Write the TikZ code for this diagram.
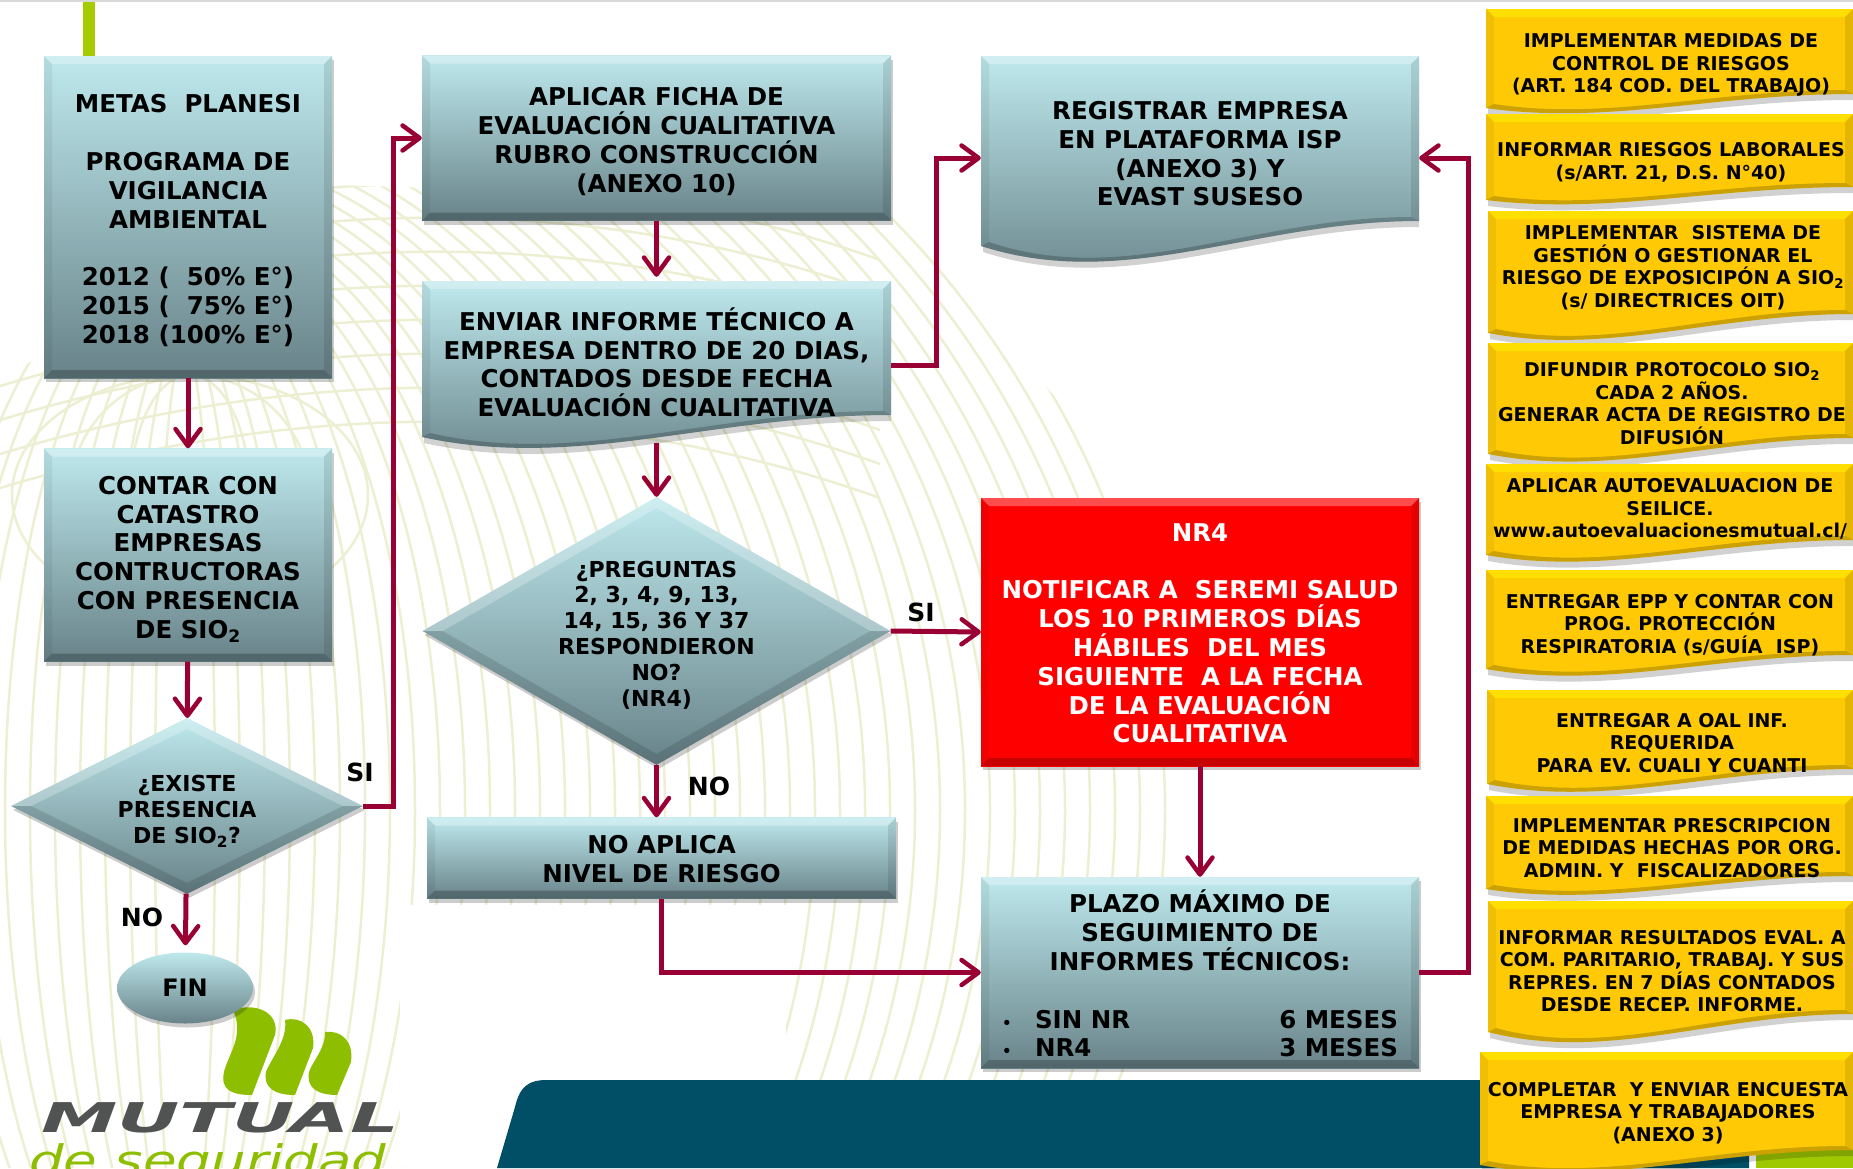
\documentclass[tikz,border=0pt]{standalone}
\usepackage{fontspec}
\setmainfont{DejaVu Sans}
\usetikzlibrary{arrows.meta,shapes.geometric,shadows}
\definecolor{linecrimson}{HTML}{990033}
\definecolor{logogreen}{HTML}{8DBF00}
\definecolor{logogray}{HTML}{505352}
\definecolor{bgcurve}{HTML}{EDEFD2}
\definecolor{petrol}{HTML}{004F66}
\newcommand{\sioo}{SIO\textsubscript{2}}
\newcommand{\tailskip}[1]{\\[#1]~}
%% body with a wavy lower edge: x0,y0,x1,y right,y left,y lowest,kind
\newcommand{\wavebox}[7]{%
  \pgfmathsetmacro\wvw{#3-#1}
  \pgfmathsetmacro\wvc{(#6-.3*#5-.255*#4)/.444}
  \fill[black,opacity=.18] (#1+2,#2+6) -- (#3,#2+6) -- (#3,#4+6)
    .. controls (#1+.62*\wvw,#4+6) and (#1+.33*\wvw,\wvc+6) .. (#1+2,#5+6) -- cycle;
  \shade[#7fill] (#1,#2) -- (#3,#2) -- (#3,#4)
    .. controls (#1+.62*\wvw,#4) and (#1+.33*\wvw,\wvc) .. (#1,#5) -- cycle;
  \fill[#7top] (#1,#2) -- (#3,#2) -- (#3-8,#2+8) -- (#1+8,#2+8) -- cycle;
  \fill[black,opacity=.06] (#1,#2) -- (#1+8,#2+8) -- (#1+8,#5-4) -- (#1,#5) -- cycle;
  \fill[black,opacity=.1] (#3,#2) -- (#3-8,#2+8) -- (#3-8,#4-4) -- (#3,#4) -- cycle;
  \fill[black,opacity=.2] (#1,#5) .. controls (#1+.33*\wvw,\wvc) and (#1+.62*\wvw,#4) .. (#3,#4)
    -- (#3-8,#4-4) .. controls (#1+.62*\wvw,#4-4) and (#1+.33*\wvw,\wvc-4) .. (#1+8,#5-4) -- cycle;
}
\begin{document}
\begin{tikzpicture}
[x=1pt,y=-1pt,
  >={Straight Barb[length=17pt,width=25pt,line width=4.5pt,round]},%
  bgdecorate/.style={draw=bgcurve,line width=2.5pt},%
  linedecorate/.style={->,draw=linecrimson,line width=5pt},%
  basedecorate/.style={align=center,inner sep=0pt,font=\bfseries\fontsize{24.5}{28.8}\selectfont},%
  lightdrop/.style={drop shadow={shadow xshift=2pt,shadow yshift=-4pt,fill=black,opacity=.2}},%
  tealfill/.style={top color=tealhigh,middle color=tealmid,bottom color=teallow},%
  tealtop/.style={white,opacity=.3},%
  yellowfill/.style={top color=yellowmain,bottom color=yellowmain},%
  yellowtop/.style={yellow,opacity=.55},%
  rectbevel/.style={path picture={
      \fill[#1,opacity=.3] (path picture bounding box.north west) -- (path picture bounding box.north east)
        -- ++(-8,8) -- ([shift={(8,8)}]path picture bounding box.north west) -- cycle;
      \fill[black,opacity=.06] (path picture bounding box.north west) -- ++(8,8)
        -- ([shift={(8,-8)}]path picture bounding box.south west) -- (path picture bounding box.south west) -- cycle;
      \fill[black,opacity=.1] (path picture bounding box.north east) -- ++(-8,8)
        -- ([shift={(-8,-8)}]path picture bounding box.south east) -- (path picture bounding box.south east) -- cycle;
      \fill[black,opacity=.22] (path picture bounding box.south west) -- ++(8,-8)
        -- ([shift={(-8,-8)}]path picture bounding box.south east) -- (path picture bounding box.south east) -- cycle;
    }},%
  diamondbevel/.style={path picture={
      \fill[white,opacity=.25] (path picture bounding box.west) -- (path picture bounding box.north)
        -- (path picture bounding box.east) -- ++(-20,0) -- ([yshift=-11pt]path picture bounding box.north)
        -- ([xshift=20pt]path picture bounding box.west) -- cycle;
      \fill[black,opacity=.12] (path picture bounding box.west) -- (path picture bounding box.south)
        -- (path picture bounding box.east) -- ++(-20,0) -- ([yshift=11pt]path picture bounding box.south)
        -- ([xshift=20pt]path picture bounding box.west) -- cycle;
    }},%
  tealdecorate/.style={rectangle,basedecorate,tealfill,lightdrop,rectbevel=white},%
  reddecorate/.style={rectangle,basedecorate,text=white,top color=red,bottom color=red,lightdrop,rectbevel=white},%
  wavedecorate/.style={rectangle,basedecorate},%
  yellowdecorate/.style={rectangle,align=center,inner sep=0pt,yshift=-1pt,font=\bfseries\fontsize{19}{22.6}\selectfont},%
  diamonddecorate/.style={diamond,align=center,inner sep=0pt,tealfill,lightdrop,diamondbevel,
    font=\bfseries\fontsize{22}{25.8}\selectfont},%
  labeldecorate/.style={inner sep=0pt,font=\bfseries\fontsize{25}{28}\selectfont}]
\definecolor{tealhigh}{HTML}{BEE9ED}
\definecolor{tealmid}{HTML}{A3C7CB}
\definecolor{teallow}{HTML}{688389}
\definecolor{yellowmain}{HTML}{FFCA05}
\useasboundingbox (0,0) rectangle (1853,1168);
%% page furniture
\fill[black!15] (0,0) rectangle (1853,2);
\fill[logogreen!80!yellow] (83,2) rectangle (95,56);
\begin{scope}
  \clip (330,185) -- (880,200) -- (1200,560) -- (1200,1080) -- (400,1168) -- (0,1168) -- (0,380) -- cycle;
  \foreach \bgrad in {30,55,...,1000} {
    \draw[bgdecorate] (185,810) ellipse [x radius=\bgrad, y radius=450+.45*\bgrad];
  }
  \foreach \bgy in {190,224,...,430} {
    \draw[bgdecorate] (0,\bgy+60) .. controls (300,\bgy-30) and (600,\bgy-30) .. (880,\bgy+70);
  }
  \foreach \bgrx in {60,120,178} {
    \draw[bgdecorate] (190,495) ellipse [x radius=\bgrx, y radius=120];
  }
  \fill[white] (400,905) rectangle (786,1168);
\end{scope}
\fill[petrol] (497,1168) -- (515,1107) .. controls (520,1085) and (530,1080) .. (547,1080)
  -- (1749,1080) -- (1749,1168) -- cycle;
\fill[logogreen!85!yellow] (1756,1150) rectangle (1853,1168);
%% logo
\fill[logogreen] (233,1010) .. controls (255,1002) and (280,1012) .. (275,1035) -- (252,1095)
  .. controls (232,1095) and (220,1090) .. (224,1072) .. controls (228,1055) and (245,1035) .. (233,1010) -- cycle;
\fill[logogreen] (285,1020) .. controls (300,1016) and (316,1026) .. (313,1048) -- (295,1095)
  .. controls (275,1095) and (263,1088) .. (266,1072) .. controls (270,1060) and (288,1040) .. (285,1020) -- cycle;
\fill[logogreen] (325,1032) .. controls (340,1030) and (354,1040) .. (351,1062) -- (337,1095)
  .. controls (318,1095) and (306,1088) .. (309,1072) .. controls (312,1062) and (326,1048) .. (325,1032) -- cycle;
\node (logotop) at (41,1132) [anchor=base west,inner sep=0pt,text=logogray]
  {\scalebox{1.87}[1]{\fontsize{41}{41}\selectfont\bfseries\itshape MUTUAL}};
\node (logobottom) at (29,1175) [anchor=base west,inner sep=0pt,text=logogreen]
  {\scalebox{1.3}[1]{\fontsize{42}{42}\selectfont\itshape de seguridad}};
%% wavy bodies
\wavebox{422}{281}{891}{415}{437}{446}{teal}
\wavebox{981}{56}{1419}{221}{246}{260}{teal}
%% nodes or vertices
\node (metas) at (188,217) [tealdecorate,minimum width=288pt,minimum height=322pt]
  {METAS~~PLANESI\\~\\PROGRAMA DE\\VIGILANCIA\\AMBIENTAL\\~\\2012 (~~50\% E°)\\2015 (~~75\% E°)\\2018 (100\% E°)\tailskip{-33pt}};
\node (catastro) at (188,555) [tealdecorate,minimum width=288pt,minimum height=213pt]
  {CONTAR CON\\CATASTRO\\EMPRESAS\\CONTRUCTORAS\\CON PRESENCIA\\DE \sioo\tailskip{-33pt}};
\node (existe) at (187,806) [diamonddecorate,aspect=2,minimum width=352pt,minimum height=176pt]
  {¿EXISTE\\PRESENCIA\\DE \sioo?\tailskip{-32.8pt}};
\node (fin) at (185,988) [ellipse,align=center,inner sep=0pt,font=\bfseries\fontsize{24}{25}\selectfont,tealfill,lightdrop,
  minimum width=136pt,minimum height=71pt,
  path picture={
    \draw[white,opacity=.25,line width=6pt] (117,988) arc [start angle=180,end angle=360,x radius=68,y radius=35];
    \draw[black,opacity=.2,line width=6pt] (117,988) arc [start angle=180,end angle=0,x radius=68,y radius=35];
  }] {FIN};
\node (aplicar) at (656.5,138) [tealdecorate,minimum width=469pt,minimum height=165pt]
  {APLICAR FICHA DE\\EVALUACIÓN CUALITATIVA\\RUBRO CONSTRUCCIÓN\\(ANEXO 10)\tailskip{-33pt}};
\node (enviar) at (656.5,360) [wavedecorate,minimum width=469pt,minimum height=166pt]
  {ENVIAR INFORME TÉCNICO A\\EMPRESA DENTRO DE 20 DIAS,\\CONTADOS DESDE FECHA\\EVALUACIÓN CUALITATIVA\tailskip{-33pt}};
\node (preguntas) at (656.5,631) [diamonddecorate,aspect=1.746,minimum width=468pt,minimum height=268pt]
  {¿PREGUNTAS\\2, 3, 4, 9, 13,\\14, 15, 36 Y 37\\RESPONDIERON\\NO?\\(NR4)\tailskip{-30.6pt}};
\node (noaplica) at (661.5,858) [tealdecorate,minimum width=469pt,minimum height=81pt]
  {NO APLICA\\NIVEL DE RIESGO\tailskip{-31pt}};
\node (registrar) at (1200,158) [wavedecorate,minimum width=438pt,minimum height=204pt]
  {REGISTRAR EMPRESA\\EN PLATAFORMA ISP\\(ANEXO 3) Y\\EVAST SUSESO\tailskip{-20pt}};
\node (nrcuatro) at (1200,632) [reddecorate,minimum width=438pt,minimum height=268pt]
  {NR4\\~\\NOTIFICAR A~~SEREMI SALUD\\LOS 10 PRIMEROS DÍAS\\HÁBILES~~DEL MES\\SIGUIENTE~~A LA FECHA\\DE LA EVALUACIÓN\\CUALITATIVA\tailskip{-31pt}};
\node (plazo) at (1200,972.5) [tealdecorate,minimum width=438pt,minimum height=191pt]
  {PLAZO MÁXIMO DE\\SEGUIMIENTO DE\\INFORMES TÉCNICOS:\\~\\
   \makebox[396pt][l]{\makebox[33pt][l]{\fontsize{15}{15}\selectfont •}SIN NR\hfill 6 MESES}\\
   \makebox[396pt][l]{\makebox[33pt][l]{\fontsize{15}{15}\selectfont •}NR4\hfill 3 MESES}\tailskip{-31pt}};
%% yellow list on the right
\foreach \nodename/\xa/\ya/\yr/\yl/\yc/\xt/\yt/\linetext in {
  medidas/1486/9/94/108/112/1671/64/{IMPLEMENTAR MEDIDAS DE\\CONTROL DE RIESGOS\\(ART. 184 COD. DEL TRABAJO)},
  laborales/1486/114/187/200/203/1671/161/{INFORMAR RIESGOS LABORALES\\(s/ART. 21, D.S. N°40)},
  sistema/1488/211/314/333/338/1673/266.5/{IMPLEMENTAR~~SISTEMA DE\\GESTIÓN O GESTIONAR EL\\RIESGO DE EXPOSICIPÓN A \sioo\\(s/ DIRECTRICES OIT)},
  protocolo/1488/343/438/454/460/1672/402.4/{DIFUNDIR PROTOCOLO \sioo\\CADA 2 AÑOS.\\GENERAR ACTA DE REGISTRO DE\\DIFUSIÓN},
  seilice/1486/464/540/555/560/1670/508/{APLICAR AUTOEVALUACION DE\\SEILICE.\\www.autoevaluacionesmutual.cl/},
  epp/1486/570/655/669/674/1670/624/{ENTREGAR EPP Y CONTAR CON\\PROG. PROTECCIÓN\\RESPIRATORIA (s/GUÍA~~ISP)},
  oal/1487/690/769/784/790/1672/742/{ENTREGAR A OAL INF.\\REQUERIDA\\PARA EV. CUALI Y CUANTI},
  prescripcion/1486/796/876/889/893/1672/847/{IMPLEMENTAR PRESCRIPCION\\DE MEDIDAS HECHAS POR ORG.\\ADMIN. Y~~FISCALIZADORES},
  resultados/1488/901/1014/1032/1040/1672/970/{INFORMAR RESULTADOS EVAL. A\\COM. PARITARIO, TRABAJ. Y SUS\\REPRES. EN 7 DÍAS CONTADOS\\DESDE RECEP. INFORME.},
  encuesta/1480/1052/1150/1165/1170/1668/1112/{COMPLETAR~~Y ENVIAR ENCUESTA\\EMPRESA Y TRABAJADORES\\(ANEXO 3)}} {
  \wavebox{\xa}{\ya}{1853}{\yr}{\yl}{\yc}{yellow}
  \node (\nodename) at (\xt,\yt) [yellowdecorate] {\linetext};
}
%% rails of the long connectors
\coordinate (railaplicar) at (393,138);
\coordinate (railregistrar) at (936,158);
\coordinate (railplazo) at (1468,158);
%% edges or lines
\draw[linedecorate] (metas) -- (catastro);
\draw[linedecorate] (catastro) -- (existe);
\draw[linedecorate,shorten >=7pt] (existe) -- (fin);
\draw[linedecorate] (existe.east) -| (railaplicar) -- (aplicar.west);
\draw[linedecorate] (aplicar) -- (enviar);
\draw[linedecorate] (enviar) -- (preguntas);
\draw[linedecorate] ([yshift=-5pt]enviar.east) -| (railregistrar) -- (registrar.west);
\draw[linedecorate] (preguntas.east) -- (nrcuatro.west);
\draw[linedecorate] (preguntas.south) -- (preguntas.south |- noaplica.north);
\draw[linedecorate] (noaplica.south) |- (plazo.west);
\draw[linedecorate] (nrcuatro) -- (plazo);
\draw[linedecorate] (plazo.east) -| (railplazo) -- (registrar.east);
%% branch labels
\node (labelsiuno) at (360,772) [labeldecorate] {SI};
\node (labelnouno) at (142,917) [labeldecorate] {NO};
\node (labelsidos) at (921,612) [labeldecorate] {SI};
\node (labelnodos) at (709,786) [labeldecorate] {NO};
\end{tikzpicture}
\end{document}
